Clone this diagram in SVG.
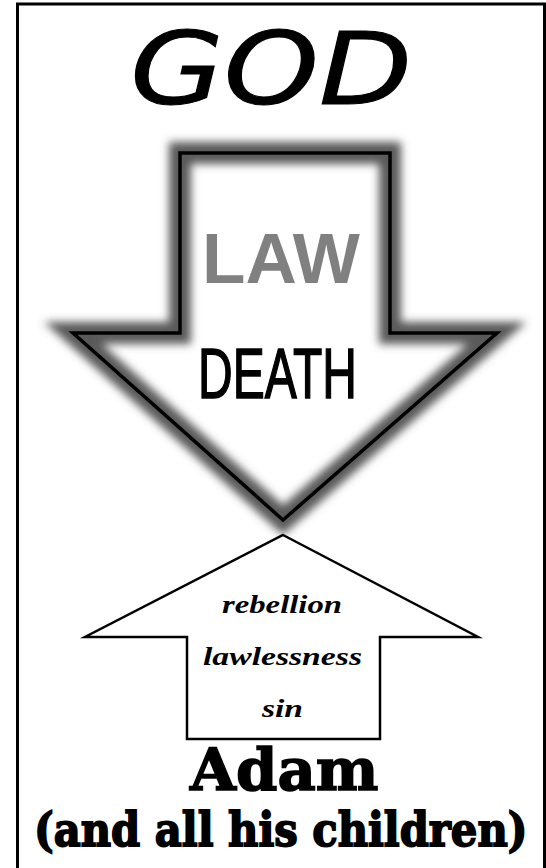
<svg xmlns="http://www.w3.org/2000/svg" width="546" height="868" viewBox="0 0 546 868">
<defs>
<filter id="glow" x="-20%" y="-20%" width="140%" height="140%"><feGaussianBlur stdDeviation="4"/></filter>
<style>
.frame{fill:none;stroke:#000;stroke-width:3}
.glow{fill:none;stroke:#5a5a5a;stroke-width:22;stroke-linejoin:miter;stroke-miterlimit:10}
.down{fill:none;stroke:#000;stroke-width:3.5;stroke-linejoin:miter;stroke-miterlimit:10}
.up{fill:#fff;stroke:#000;stroke-width:2.5;stroke-linejoin:miter;stroke-miterlimit:10}
.god{font-family:"DejaVu Sans",sans-serif;font-size:100px;font-style:oblique;fill:#000;stroke:#000;stroke-width:1}
.law{font-family:"Liberation Sans",Arial,sans-serif;font-weight:bold;font-size:70px;fill:#808080}
.death{font-family:"Liberation Sans",Arial,sans-serif;font-size:70px;fill:#000;stroke:#000;stroke-width:1.5}
.sinw{font-family:"Liberation Serif","Times New Roman",serif;font-style:italic;font-weight:bold;font-size:25px;fill:#000}
.adam{font-family:"DejaVu Serif",serif;font-weight:bold;fill:#000;stroke:#000;stroke-width:1.5}
</style>
</defs>
<rect x="0" y="0" width="546" height="868" fill="#fff"/>
<path class="frame" d="M17.5,868 V4 H544.5 V868"/>
<g id="god"><text class="god" x="130" y="104" textLength="282" lengthAdjust="spacingAndGlyphs">GOD</text></g>
<g id="law-arrow">
<polygon points="180,153 390,153 390,333 497,333 283,520 73,333 180,333" fill="#fff"/>
<polygon class="glow" filter="url(#glow)" points="180,153 390,153 390,333 497,333 283,520 73,333 180,333"/>
<polygon class="down" points="180,153 390,153 390,333 497,333 283,520 73,333 180,333"/>
<text class="law" x="281" y="283" text-anchor="middle" textLength="158" lengthAdjust="spacingAndGlyphs">LAW</text>
<text class="death" x="198" y="398" textLength="159" lengthAdjust="spacingAndGlyphs">DEATH</text>
</g>
<g id="sin-arrow">
<polygon class="up" points="283,535 478,637 380,637 380,739 187,739 187,637 85,637"/>
<text class="sinw" x="222" y="613" textLength="120" lengthAdjust="spacingAndGlyphs">rebellion</text>
<text class="sinw" x="203" y="665" textLength="159" lengthAdjust="spacingAndGlyphs">lawlessness</text>
<text class="sinw" x="262" y="717" textLength="41" lengthAdjust="spacingAndGlyphs">sin</text>
</g>
<g id="adam">
<text class="adam" transform="translate(190,790) scale(1.04,1)" x="0" y="0" font-size="57">Adam</text>
<text class="adam" transform="translate(34,846) scale(1.07,1.2)" x="0" y="0" font-size="39" stroke-width="2">(and all his children)</text>
</g>
</svg>
